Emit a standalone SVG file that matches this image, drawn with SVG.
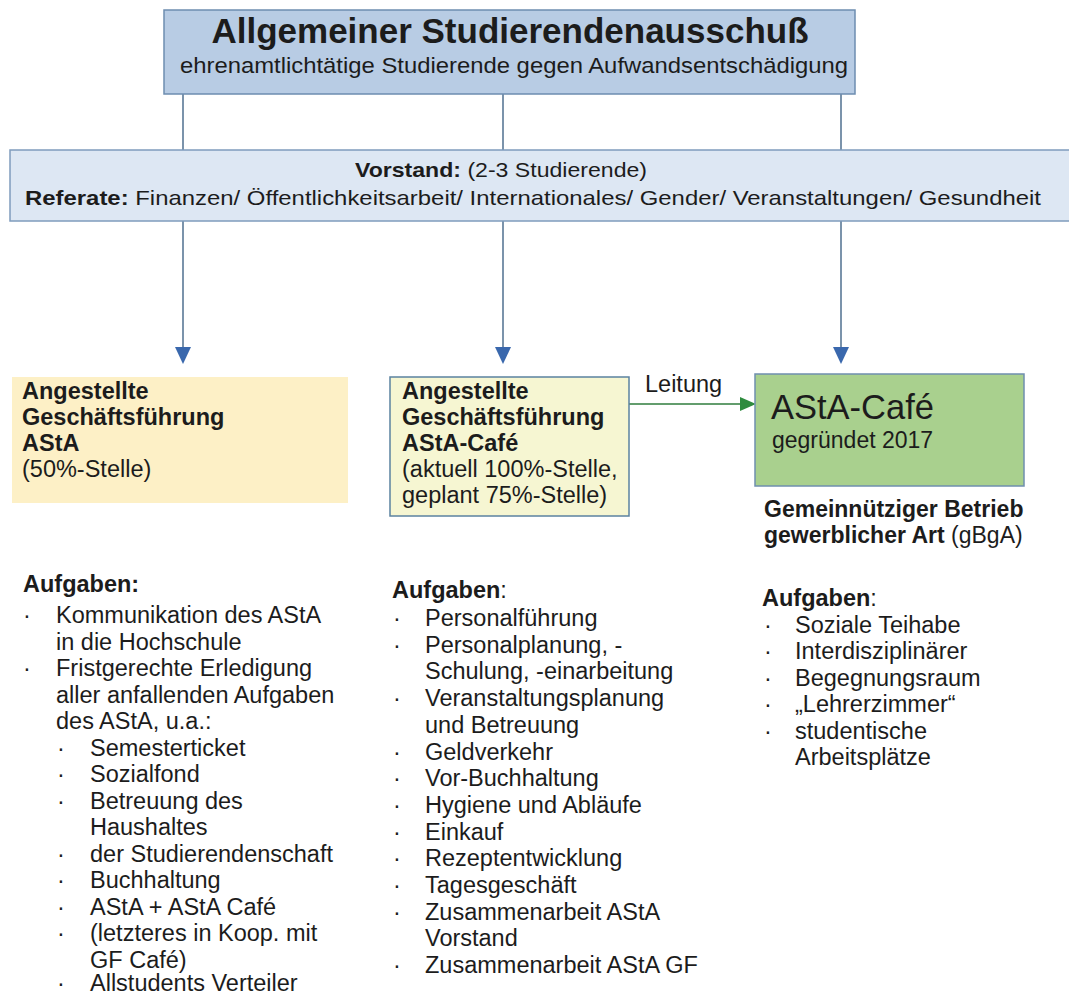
<svg xmlns="http://www.w3.org/2000/svg" width="1069" height="994" viewBox="0 0 1069 994">
<defs>
<style>
text{font-family:"Liberation Sans",Arial,sans-serif;fill:#1c1c1c}
.b{font-weight:bold}
.t{font-size:23.5px}
.conn{stroke:#4f6f8f;stroke-width:1.5;fill:none}
.head{fill:#3a68ad}
</style>
</defs>
<rect width="1069" height="994" fill="#ffffff"/>
<g id="connectors">
<line class="conn" x1="183" y1="94" x2="183" y2="150"/>
<line class="conn" x1="503" y1="94" x2="503" y2="150"/>
<line class="conn" x1="841" y1="94" x2="841" y2="150"/>
<line class="conn" x1="183" y1="221" x2="183" y2="350"/>
<polygon class="head" points="175,347 191,347 183,364"/>
<line class="conn" x1="503" y1="221" x2="503" y2="350"/>
<polygon class="head" points="495,347 511,347 503,364"/>
<line class="conn" x1="841" y1="221" x2="841" y2="350"/>
<polygon class="head" points="833,347 849,347 841,364"/>
<line x1="629" y1="404" x2="742" y2="404" stroke="#2f7d3c" stroke-width="1.5"/>
<polygon points="740,397 756,404 740,411" fill="#2e8b3e"/>
<text class="t" x="645" y="392">Leitung</text>
</g>
<g id="asta">
<rect x="164" y="10" width="691" height="84" fill="#b8cce4" stroke="#6d8db0" stroke-width="1.5"/>
<text class="b" x="510" y="43" font-size="35" text-anchor="middle">Allgemeiner Studierendenausschuß</text>
<text x="514" y="73" font-size="22" text-anchor="middle" textLength="668" lengthAdjust="spacingAndGlyphs">ehrenamtlichtätige Studierende gegen Aufwandsentschädigung</text>
</g>
<g id="vorstand">
<rect x="10" y="150" width="1062" height="71" fill="#dde7f3" stroke="#7f9cbd" stroke-width="1.5"/>
<text x="501" y="177" font-size="21" text-anchor="middle" textLength="292" lengthAdjust="spacingAndGlyphs"><tspan class="b">Vorstand:</tspan> (2-3 Studierende)</text>
<text x="25" y="205" font-size="21" textLength="1016" lengthAdjust="spacingAndGlyphs"><tspan class="b">Referate:</tspan> Finanzen/ Öffentlichkeitsarbeit/ Internationales/ Gender/ Veranstaltungen/ Gesundheit</text>
</g>
<g id="gf-asta">
<rect x="12" y="377" width="336" height="126" fill="#fdf0c6"/>
<text class="t b" x="22" y="399">Angestellte</text>
<text class="t b" x="22" y="425">Geschäftsführung</text>
<text class="t b" x="22" y="451">AStA</text>
<text class="t" x="22" y="477">(50%-Stelle)</text>
</g>
<g id="gf-cafe">
<rect x="390" y="377" width="239" height="139" fill="#f6f6d2" stroke="#5b82a0" stroke-width="1.5"/>
<text class="t b" x="402" y="399">Angestellte</text>
<text class="t b" x="402" y="425">Geschäftsführung</text>
<text class="t b" x="402" y="451">AStA-Café</text>
<text class="t" x="402" y="477">(aktuell 100%-Stelle,</text>
<text class="t" x="402" y="503">geplant 75%-Stelle)</text>
</g>
<g id="cafe">
<rect x="755" y="374" width="269" height="112" fill="#a9d08e" stroke="#6f8fae" stroke-width="1.5"/>
<text x="771" y="419" font-size="34.5">AStA-Café</text>
<text x="772" y="448" font-size="23">gegründet 2017</text>
<text class="b" x="764" y="517" font-size="23">Gemeinnütziger Betrieb</text>
<text x="764" y="543" font-size="23"><tspan class="b">gewerblicher Art</tspan> (gBgA)</text>
</g>
<g id="aufgaben-asta" class="t">
<text class="b" x="23" y="592">Aufgaben:</text>
<text x="23" y="623">·</text><text x="56" y="623">Kommunikation des AStA</text>
<text x="56" y="649.5">in die Hochschule</text>
<text x="23" y="676">·</text><text x="56" y="676">Fristgerechte Erledigung</text>
<text x="56" y="702.5">aller anfallenden Aufgaben</text>
<text x="56" y="729">des AStA, u.a.:</text>
<text x="57" y="755.5">·</text><text x="90" y="755.5">Semesterticket</text>
<text x="57" y="782">·</text><text x="90" y="782">Sozialfond</text>
<text x="57" y="808.5">·</text><text x="90" y="808.5">Betreuung des</text>
<text x="90" y="835">Haushaltes</text>
<text x="57" y="861.5">·</text><text x="90" y="861.5">der Studierendenschaft</text>
<text x="57" y="888">·</text><text x="90" y="888">Buchhaltung</text>
<text x="57" y="914.5">·</text><text x="90" y="914.5">AStA + AStA Café</text>
<text x="57" y="941">·</text><text x="90" y="941">(letzteres in Koop. mit</text>
<text x="90" y="967.5">GF Café)</text>
<text x="57" y="991">·</text><text x="90" y="991">Allstudents Verteiler</text>
</g>
<g id="aufgaben-gf-cafe" class="t">
<text x="392" y="598"><tspan class="b">Aufgaben</tspan>:</text>
<text x="393" y="626">·</text><text x="425" y="626">Personalführung</text>
<text x="393" y="652.7">·</text><text x="425" y="652.7">Personalplanung, -</text>
<text x="425" y="679.4">Schulung, -einarbeitung</text>
<text x="393" y="706.1">·</text><text x="425" y="706.1">Veranstaltungsplanung</text>
<text x="425" y="732.8">und Betreuung</text>
<text x="393" y="759.5">·</text><text x="425" y="759.5">Geldverkehr</text>
<text x="393" y="786.2">·</text><text x="425" y="786.2">Vor-Buchhaltung</text>
<text x="393" y="812.9">·</text><text x="425" y="812.9">Hygiene und Abläufe</text>
<text x="393" y="839.6">·</text><text x="425" y="839.6">Einkauf</text>
<text x="393" y="866.3">·</text><text x="425" y="866.3">Rezeptentwicklung</text>
<text x="393" y="893">·</text><text x="425" y="893">Tagesgeschäft</text>
<text x="393" y="919.7">·</text><text x="425" y="919.7">Zusammenarbeit AStA</text>
<text x="425" y="946.4">Vorstand</text>
<text x="393" y="973.1">·</text><text x="425" y="973.1">Zusammenarbeit AStA GF</text>
</g>
<g id="aufgaben-cafe" class="t">
<text x="762" y="606"><tspan class="b">Aufgaben</tspan>:</text>
<text x="764" y="633">·</text><text x="795" y="633">Soziale Teihabe</text>
<text x="764" y="659.4">·</text><text x="795" y="659.4">Interdisziplinärer</text>
<text x="764" y="685.8">·</text><text x="795" y="685.8">Begegnungsraum</text>
<text x="764" y="712.2">·</text><text x="795" y="712.2">„Lehrerzimmer“</text>
<text x="764" y="738.6">·</text><text x="795" y="738.6">studentische</text>
<text x="795" y="765">Arbeitsplätze</text>
</g>
</svg>
